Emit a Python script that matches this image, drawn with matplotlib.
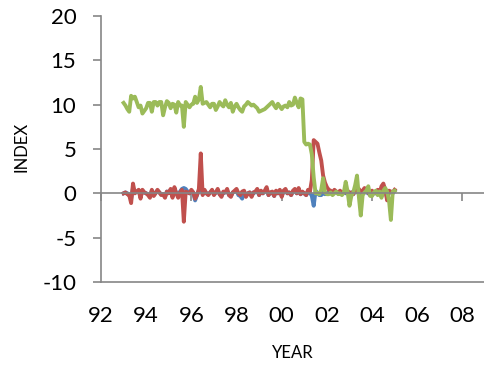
import numpy as np
import pandas as pd
import matplotlib
matplotlib.use("Agg")
import matplotlib.pyplot as plt

# ---------------- data ----------------
start_month = "1993-01"
green = [
    10.2, 9.9, 9.5, 9.2, 11.0, 10.7, 10.9, 10.3, 9.7, 9.9,
    9.0, 9.3, 9.6, 10.2, 10.2, 9.2, 10.3, 10.3, 9.9, 10.3,
    10.3, 8.8, 9.7, 10.4, 10.2, 9.6, 10.1, 10.0, 9.1, 10.3,
    9.9, 9.9, 7.5, 10.3, 10.0, 9.7, 10.0, 10.1, 10.9, 10.2,
    10.6, 12.0, 10.1, 10.2, 10.3, 10.0, 9.7, 10.1,
    10.1, 9.4, 9.8, 10.3, 10.0, 9.8, 10.5, 10.0, 9.7, 10.2,
    9.2, 9.8, 10.1, 9.7, 9.4, 9.2, 9.8, 10.0, 10.3, 10.1,
    9.9, 10.0, 9.8, 9.6, 9.2, 9.3, 9.4, 9.5, 9.7, 9.9,
    10.1, 10.3, 9.9, 9.6, 10.1, 9.8, 9.5, 9.8, 9.9, 9.7,
    10.3, 9.9, 10.0, 10.8, 10.2, 9.7, 10.7, 10.6,
    5.8, 5.5, 5.6, 5.5, 4.4, 1.8, 0.0,
    0.0, -0.1, 0.4, 1.7, 0.1, -0.1, -0.1, 0.1, -0.2, 0.0,
    0.2, -0.1, 0.0, -0.2, 0.1, 1.3, 0.2, -1.4, -0.3, 0.1,
    0.9, 2.0, -0.4, -2.5, -0.2, 0.1, 0.3, 0.8, -0.3, -0.3,
    0.1, 0.3, -0.2, 0.2, -0.5, 0.3, 0.6, 0.2, -0.8, -3.0,
    0.2, 0.3,
]
red = [
    0.0, 0.1, -0.1, -0.2, -1.1, 1.1, 0.0, 0.2, 0.4, -0.6,
    0.4, 0.1, 0.0, -0.2, -0.5, 0.4, -0.3, 0.0, 0.4, 0.1,
    -0.2, -0.1, -0.5, 0.2, 0.0, 0.5, -0.5, 0.7, 0.0, -0.5,
    0.1, 0.4, -3.2, 0.2, 0.1, 0.0, 0.4, 0.1, -0.6, -0.2,
    0.5, 4.5, -0.2, 0.4, 0.0, -0.2, 0.1, 0.4,
    -0.2, 0.1, 0.5, -0.1, -0.4, 0.2, 0.1, 0.5, -0.2, -0.4,
    0.1, 0.3, 0.5, 0.0, -0.2, 0.2, 0.3, -0.4, 0.0, 0.1,
    -0.4, 0.1, 0.2, 0.5, -0.2, 0.3, 0.0, 0.3, 0.7, -0.2,
    0.1, 0.2, -0.3, 0.3, 0.0, 0.4, -0.4, 0.3, 0.5, 0.0,
    0.1, -0.2, 0.3, 0.5, 0.0, 0.6, -0.1, 0.2, 0.0, -0.2,
    0.4, 0.2,
    1.5, 6.0, 5.8, 5.6, 4.6, 3.7, 2.0, 1.2, 0.7, 0.4,
    0.3, 0.0, 0.4, 0.2, 0.1, 0.3, 0.0, 0.2, 0.1, 0.3,
    0.0, 0.1, -0.1, 0.3, 0.2, 0.5, 0.1, 0.3, 0.6, 0.2,
    0.1, -0.2, 0.3, 0.0, 0.1, 0.4, 0.0, 0.8, 1.1, 0.4,
    -0.8, 0.3, 0.2, 0.1, 0.4,
]
blue = [
    0.0, 0.1, 0.0, -0.1, -0.6, 0.6, 0.1, 0.2, 0.3, -0.4,
    0.3, 0.1, 0.0, -0.1, -0.3, 0.3, -0.2, 0.1, 0.3, 0.1,
    -0.1, -0.1, -0.4, 0.2, 0.1, 0.4, -0.3, 0.5, 0.0, -0.3,
    0.2, 0.5, 0.6, 0.5, 0.2, 0.0, 0.3, 0.1, -0.8, -0.2,
    0.3, 0.6, -0.1, 0.3, 0.0, -0.1, 0.1, 0.3,
    -0.1, 0.1, 0.3, -0.1, -0.3, 0.1, 0.1, 0.3, -0.2, -0.3,
    0.1, 0.2, 0.3, -0.2, -0.3, -0.6, 0.2, -0.3, 0.0, 0.1,
    -0.3, 0.1, 0.1, 0.3, -0.2, 0.2, 0.0, 0.2, 0.4, -0.2,
    0.1, 0.1, -0.3, 0.2, 0.0, 0.3, -0.3, 0.2, 0.3, 0.0,
    0.1, -0.2, 0.2, 0.3, 0.0, 0.4, -0.1, 0.1, 0.0, -0.2,
    0.2, 0.1,
    -0.3, -1.4, 0.3, 0.0, -0.2, -0.2, 0.1, -0.1, 0.0, 0.1,
    0.1, 0.0, 0.2, 0.1, 0.0, 0.2, 0.0, 0.1, 0.0, 0.2,
    0.0, 0.1, -0.1, 0.2, 0.1, 0.3, 0.0, 0.2, 0.4, 0.1,
    0.0, -0.2, 0.2, 0.0, 0.0, 0.3, 0.0, 0.5, 0.7, 0.3,
    -0.5, 0.2, 0.1, 0.0, 0.3,
]
tick_years = [1992, 1996, 2000, 2004, 2008]
label_years = [1992, 1994, 1996, 1998, 2000, 2002, 2004, 2006, 2008]
label_texts = ["92", "94", "96", "98", "00", "02", "04", "06", "08"]
y_ticks = [-10, -5, 0, 5, 10, 15, 20]
x_range = (1992.0, 2009.0)
y_range = (-10, 20)

# ---------------- plot ----------------
plt.rcParams["font.family"] = ["Lato", "DejaVu Sans"]
plt.rcParams["axes.unicode_minus"] = False

dates = pd.date_range(start_month, periods=len(green), freq="MS")
t = dates.year + (dates.month - 1) / 12.0

axis_grey = "#868686"
fig = plt.figure(figsize=(4.85, 3.67), dpi=100)
ax = fig.add_axes([101 / 485, 1 - 282 / 367, 384 / 485, 266 / 367])

lw = 2.8
ax.plot(t, blue, color="#4F81BD", lw=lw, solid_joinstyle="round")
ax.plot(t, red, color="#C0504D", lw=lw, solid_joinstyle="round")
ax.plot(t, green, color="#9BBB59", lw=lw, solid_joinstyle="round")

ax.set_xlim(*x_range)
ax.set_ylim(*y_range)

for s in ("top", "right"):
    ax.spines[s].set_visible(False)
ax.spines["left"].set_color(axis_grey)
ax.spines["left"].set_linewidth(1.2)
ax.spines["bottom"].set_position(("data", 0))
ax.spines["bottom"].set_color(axis_grey)
ax.spines["bottom"].set_linewidth(1.2)

ax.set_yticks(y_ticks)
ax.tick_params(axis="y", direction="out", length=5.8, width=1.2, color=axis_grey,
               labelsize=16, pad=12, labelcolor="black")
ax.set_xticks(tick_years)
ax.tick_params(axis="x", direction="out", length=5.8, width=1.2, color=axis_grey,
               labelbottom=False)

sec = ax.secondary_xaxis("bottom")
sec.set_xticks(label_years, label_texts)
sec.tick_params(axis="x", length=0, labelsize=16, pad=17)
sec.spines["bottom"].set_color(axis_grey)
sec.spines["bottom"].set_linewidth(1.2)

fig.text(293 / 485, 1 - 353 / 367, "YEAR", ha="center", va="center", fontsize=12)
fig.text(22 / 485, 1 - 147 / 367, "INDEX", ha="center", va="center", rotation=90, fontsize=12)

fig.savefig("out.png", dpi=100)
